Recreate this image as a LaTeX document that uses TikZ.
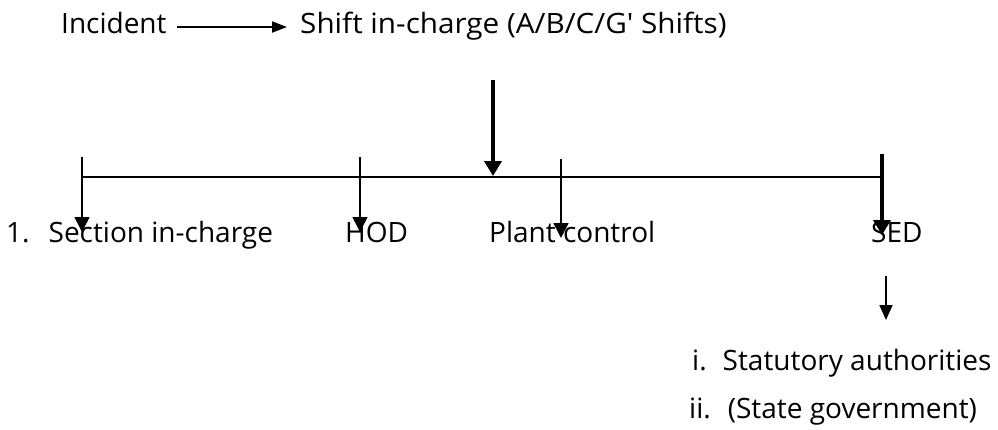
\documentclass[tikz,border=0pt]{standalone}
\usepackage{fontspec}
\setmainfont{Open Sans}[Ligatures=TeXOff]
\usetikzlibrary{arrows.meta}
\begin{document}
\begin{tikzpicture}[x=1pt,y=1pt,
  lbl/.style={inner sep=0pt, anchor=base west, font=\fontsize{28}{32}\selectfont},
  thin/.style={line width=1.6pt, -{Triangle[length=15pt,width=15pt]}},
  thick/.style={line width=4.5pt, -{Triangle[length=15pt,width=17pt]}},
  bar/.style={line width=1.8pt}]
\useasboundingbox (0,0) rectangle (998,-429);
% top row
\node[lbl] (inc) at (61,-33) {Incident};
\node[lbl, xscale=1.06] (shift) at (300,-33) {Shift in-charge (A/B/C/G' Shifts)};
\coordinate (a0) at (177,-27);
\coordinate (a1) at (287,-27);
\draw[line width=2pt, -{Triangle[length=15pt,width=11pt]}] (a0) -- (a1);
% big arrow to bar
\coordinate (b0) at (493,-80);
\coordinate (b1) at (493,-176);
\draw[thick] (b0) -- (b1);
% horizontal bar
\coordinate (L) at (82,-177);
\coordinate (R) at (882,-177);
\draw[bar] (L) -- (R);
% labels
\node[lbl] (sec) at (6,-242) {1.\hspace{19pt}Section in-charge};
\node[lbl] (hod) at (345,-242) {HOD};
\node[lbl] (plant) at (489,-242) {Plant control};
\node[lbl] (sed) at (871,-242) {SED};
% drop arrows
\coordinate (s0) at (82,-157); \coordinate (s1) at (82,-232);
\coordinate (h0) at (360,-157); \coordinate (h1) at (360,-232);
\coordinate (p0) at (561,-159); \coordinate (p1) at (561,-238);
\coordinate (e0) at (882,-154); \coordinate (e1) at (882,-235);
\draw[thin] (s0) -- (s1);
\draw[thin] (h0) -- (h1);
\draw[thin] (p0) -- (p1);
\draw[line width=3.8pt, -{Triangle[length=15pt,width=17pt]}] (e0) -- (e1);
% small arrow
\coordinate (d0) at (886,-276);
\coordinate (d1) at (886,-320);
\draw[line width=1.8pt, -{Triangle[length=15pt,width=13pt]}] (d0) -- (d1);
\node[lbl] (stat) at (692,-370) {i.\hspace{16pt}Statutory authorities};
\node[lbl] (gov) at (689,-418) {ii.\hspace{17pt}(State government)};
\end{tikzpicture}
\end{document}
